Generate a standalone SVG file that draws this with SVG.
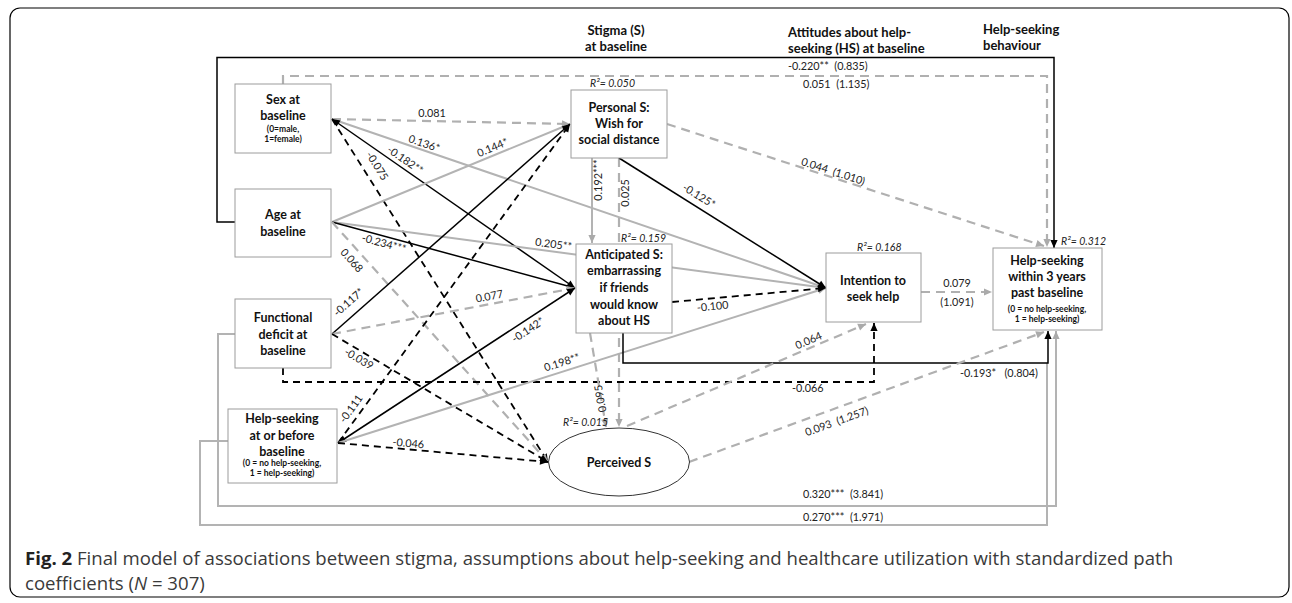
<svg xmlns="http://www.w3.org/2000/svg" width="1292" height="603" viewBox="0 0 1292 603">
<style>
.bx{fill:#fff;stroke:#9c9c9c;stroke-width:1}
.t{font-family:Lato,"Open Sans","Liberation Sans",sans-serif;font-weight:700;font-size:12.5px;fill:#111;text-anchor:middle}
.s{font-size:8.5px}
.h{font-family:Lato,"Open Sans","Liberation Sans",sans-serif;font-weight:700;font-size:13px;fill:#111}
.lb{font-family:Lato,"Open Sans","Liberation Sans",sans-serif;font-size:10.8px;fill:#222;white-space:pre}
.m{text-anchor:middle}
.r2{font-family:Lato,"Open Sans","Liberation Sans",sans-serif;font-size:10.5px;font-style:italic;fill:#222}
.ks{stroke:#000;stroke-width:1.5;fill:none}
.kd{stroke:#000;stroke-width:1.8;fill:none;stroke-dasharray:7 5}
.gs{stroke:#b3b3b3;stroke-width:2;fill:none}
.gd{stroke:#b0b0b0;stroke-width:2.2;fill:none;stroke-dasharray:9 6}
.cap{font-family:"Open Sans","Liberation Sans",sans-serif;font-size:18.6px;fill:#3a3a3a}
</style>
<defs>
<marker id="ak" viewBox="0 0 10 10" refX="10" refY="5" markerWidth="9" markerHeight="8" markerUnits="userSpaceOnUse" orient="auto-start-reverse"><path d="M0,0.5 L10,5 L0,9.5 z" fill="#000"/></marker>
<marker id="ag" viewBox="0 0 10 10" refX="10" refY="5" markerWidth="9" markerHeight="8" markerUnits="userSpaceOnUse" orient="auto-start-reverse"><path d="M0,0.5 L10,5 L0,9.5 z" fill="#aaa"/></marker>
</defs>
<rect width="1292" height="603" fill="#fff"/>
<rect x="10" y="8" width="1279" height="589" rx="10" fill="none" stroke="#000" stroke-width="1.2"/>

<g id="headers">
<text class="h m" x="616" y="35">Stigma (S)</text>
<text class="h m" x="616" y="51">at baseline</text>
<text class="h" x="788" y="37">Attitudes about help-</text>
<text class="h" x="788" y="53">seeking (HS) at baseline</text>
<text class="h" x="983" y="34">Help-seeking</text>
<text class="h" x="983" y="50">behaviour</text>
</g>

<g id="connectors">
<path class="gs" d="M228,441 H200 V525 H1047 V363"/>
<path class="gs" d="M235,334 H218 V506 H1056 V331" marker-end="url(#ag)"/>
<path class="ks" d="M235,222 H217 V57.5 H1054 V248" marker-end="url(#ak)"/>
<path class="gd" d="M283,84 V76 H1047 V247" marker-end="url(#ag)"/>
<path class="gd" d="M667,124 L1044,246" marker-end="url(#ag)"/>
<path class="gd" d="M332,119 L570,124" marker-end="url(#ag)"/>
<path class="gs" d="M332,119 L826,288" marker-end="url(#ag)"/>
<path class="ks" d="M332,119 L575,288" marker-start="url(#ak)" marker-end="url(#ak)"/>
<path class="kd" d="M332,119 L548,462" marker-end="url(#ak)"/>
<path class="gs" d="M332,222 L570,124" marker-end="url(#ag)"/>
<path class="gs" d="M332,222 L826,288" marker-end="url(#ag)"/>
<path class="ks" d="M332,222 L575,288" marker-end="url(#ak)"/>
<path class="gd" d="M332,222 L548,462" marker-end="url(#ag)"/>
<path class="ks" d="M332,334 L570,124" marker-end="url(#ak)"/>
<path class="gd" d="M332,334 L575,288" marker-end="url(#ag)"/>
<path class="kd" d="M332,334 L548,462" marker-end="url(#ak)"/>
<path class="kd" d="M283,368 V382 H874 V323" marker-end="url(#ak)"/>
<path class="kd" d="M338,443 L570,124" marker-end="url(#ak)"/>
<path class="ks" d="M338,443 L575,288" marker-start="url(#ak)" marker-end="url(#ak)"/>
<path class="gs" d="M338,443 L826,288" marker-end="url(#ag)"/>
<path class="kd" d="M338,443 L548,462" marker-end="url(#ak)"/>
<path class="gs" d="M592,158 V243" marker-end="url(#ag)"/>
<path class="gd" d="M619,158 V427" marker-end="url(#ag)"/>
<path class="ks" d="M619,158 L826,288" marker-end="url(#ak)"/>
<path class="kd" d="M672,302 L826,288" marker-end="url(#ak)"/>
<path class="gd" d="M590,333 L606,427" marker-end="url(#ag)"/>
<path class="ks" d="M623,333 V363 H1048 V331" marker-end="url(#ak)"/>
<path class="gd" d="M921,292 H992" marker-end="url(#ag)"/>
<path class="gd" d="M627,426 L866,324" marker-end="url(#ag)"/>
<path class="gd" d="M689,462 L1044,332" marker-end="url(#ag)"/>
</g>

<g id="labels">
<text class="lb" x="788" y="70">-0.220**  (0.835)</text>
<text class="lb" x="803" y="88">0.051  (1.135)</text>
<text class="lb m" x="432" y="117">0.081</text>
<text class="lb m" x="423" y="147" transform="rotate(18.8 423 147)">0.136*</text>
<text class="lb m" x="403" y="163" transform="rotate(34.8 403 163)">-0.182**</text>
<text class="lb m" x="374" y="168" transform="rotate(57.8 374 168)">-0.075</text>
<text class="lb m" x="494" y="151" transform="rotate(-22.4 494 151)">0.144*</text>
<text class="lb m" x="553" y="248" transform="rotate(7.5 553 248)">0.205**</text>
<text class="lb m" x="383" y="247" transform="rotate(15.2 383 247)">-0.234***</text>
<text class="lb m" x="349" y="263" transform="rotate(48 349 263)">0.068</text>
<text class="lb m" x="351" y="305" transform="rotate(-41.4 351 305)">-0.117*</text>
<text class="lb m" x="490" y="300" transform="rotate(-10.7 490 300)">0.077</text>
<text class="lb m" x="357" y="362" transform="rotate(30.6 357 362)">-0.039</text>
<text class="lb m" x="354" y="411" transform="rotate(-54 354 411)">-0.111</text>
<text class="lb m" x="530" y="333" transform="rotate(-33.2 530 333)">-0.142*</text>
<text class="lb m" x="563" y="366" transform="rotate(-17.7 563 366)">0.198**</text>
<text class="lb m" x="408" y="447" transform="rotate(5.2 408 447)">-0.046</text>
<text class="lb m" x="602" y="180" transform="rotate(-90 602 180)">0.192***</text>
<text class="lb m" x="629" y="193" transform="rotate(-90 629 193)">0.025</text>
<text class="lb m" x="604" y="398" transform="rotate(-100 604 398)">0.095</text>
<text class="lb m" x="697" y="199" transform="rotate(31.9 697 199)">-0.125*</text>
<text class="lb m" x="832" y="175" transform="rotate(18 832 175)">0.044  (1.010)</text>
<text class="lb m" x="713" y="310" transform="rotate(-5.6 713 310)">-0.100</text>
<text class="lb m" x="810" y="344" transform="rotate(-23 810 344)">0.064</text>
<text class="lb m" x="838" y="425" transform="rotate(-20 838 425)">0.093  (1.257)</text>
<text class="lb m" x="957" y="287">0.079</text>
<text class="lb m" x="957" y="306">(1.091)</text>
<text class="lb" x="960" y="377">-0.193*   (0.804)</text>
<text class="lb" x="792" y="392">-0.066</text>
<text class="lb" x="803" y="498">0.320***  (3.841)</text>
<text class="lb" x="803" y="521">0.270***  (1.971)</text>
</g>

<g id="sex">
<rect class="bx" x="235" y="84" width="96" height="69"/>
<text class="t" x="283" y="104">Sex at</text>
<text class="t" x="283" y="120">baseline</text>
<text class="t s" x="283" y="132">(0=male,</text>
<text class="t s" x="283" y="142">1=female)</text>
</g>
<g id="age">
<rect class="bx" x="235" y="189" width="96" height="68"/>
<text class="t" x="283" y="219">Age at</text>
<text class="t" x="283" y="236">baseline</text>
</g>
<g id="functional">
<rect class="bx" x="235" y="299" width="96" height="69"/>
<text class="t" x="283" y="322">Functional</text>
<text class="t" x="283" y="339">deficit at</text>
<text class="t" x="283" y="355">baseline</text>
</g>
<g id="hs-before">
<rect class="bx" x="228" y="409" width="109" height="74"/>
<text class="t" x="282" y="423">Help-seeking</text>
<text class="t" x="282" y="440">at or before</text>
<text class="t" x="282" y="456">baseline</text>
<text class="t s" x="282" y="466">(0 = no help-seeking,</text>
<text class="t s" x="282" y="476">1 = help-seeking)</text>
</g>
<g id="personal">
<rect class="bx" x="571" y="90" width="96" height="68"/>
<text class="t" x="619" y="112">Personal S:</text>
<text class="t" x="619" y="128">Wish for</text>
<text class="t" x="619" y="144">social distance</text>
<text class="r2" x="590" y="87">R²= 0.050</text>
</g>
<g id="anticipated">
<rect class="bx" x="576" y="244" width="96" height="89"/>
<text class="t" x="624" y="259">Anticipated S:</text>
<text class="t" x="624" y="275">embarrassing</text>
<text class="t" x="624" y="292">if friends</text>
<text class="t" x="624" y="309">would know</text>
<text class="t" x="624" y="325">about HS</text>
<text class="r2" x="621" y="242">R²= 0.159</text>
</g>
<g id="intention">
<rect class="bx" x="826" y="253" width="95" height="69"/>
<text class="t" x="873" y="285">Intention to</text>
<text class="t" x="873" y="301">seek help</text>
<text class="r2" x="857" y="251">R²= 0.168</text>
</g>
<g id="hs-within">
<rect class="bx" x="993" y="248" width="109" height="82"/>
<text class="t" x="1047" y="265">Help-seeking</text>
<text class="t" x="1047" y="281">within 3 years</text>
<text class="t" x="1047" y="297">past baseline</text>
<text class="t s" x="1047" y="312">(0 = no help-seeking,</text>
<text class="t s" x="1047" y="322">1 = help-seeking)</text>
<text class="r2" x="1061" y="245">R²= 0.312</text>
</g>
<g id="perceived">
<ellipse cx="619" cy="462" rx="70.5" ry="34" fill="#fff" stroke="#333" stroke-width="1"/>
<text class="t" x="619" y="467">Perceived S</text>
<text class="r2" x="563" y="426">R²= 0.015</text>
</g>

<g id="caption">
<text class="cap" x="25" y="565"><tspan font-weight="700" fill="#222">Fig. 2</tspan> Final model of associations between stigma, assumptions about help-seeking and healthcare utilization with standardized path</text>
<text class="cap" x="25" y="590">coefficients (<tspan font-style="italic">N</tspan> = 307)</text>
</g>
</svg>
